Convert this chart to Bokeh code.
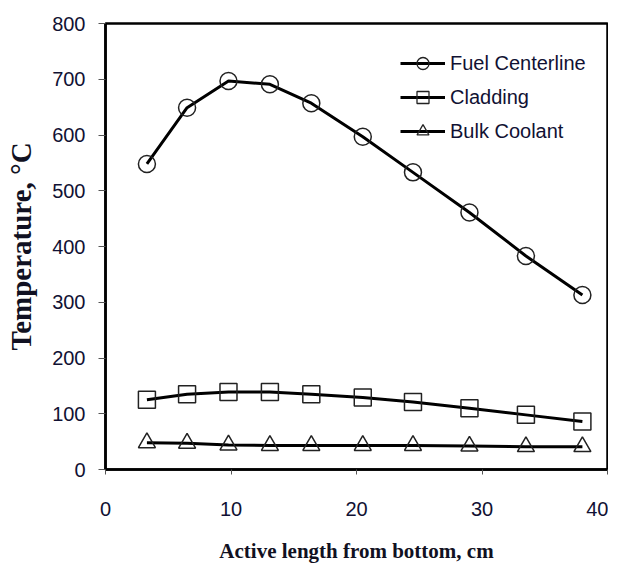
from bokeh.plotting import figure
from bokeh.models import ColumnDataSource, Legend, LegendItem, SingleIntervalTicker
from bokeh.embed import file_html
from bokeh.resources import INLINE

# Data
length_cm = [3.3, 6.5, 9.8, 13.1, 16.4, 20.5, 24.5, 29.0, 33.5, 38.0]
fuel_centerline = [548, 649, 697, 691, 657, 597, 533, 461, 383, 313]
cladding = [125, 135, 139, 139, 135, 129, 121, 110, 98, 86]
bulk_coolant = [48, 47, 44, 43, 43, 43, 43, 42, 41, 41]

series_names = ["Fuel Centerline", "Cladding", "Bulk Coolant"]
series_values = [fuel_centerline, cladding, bulk_coolant]
markers = ["circle", "square", "triangle"]

TICK_FONT = "Liberation Sans"
TITLE_FONT = "Liberation Serif"

p = figure(width=608, height=565, x_range=(0, 40), y_range=(0, 800),
           output_backend="svg", toolbar_location=None,
           min_border_left=105, min_border_right=1, min_border_top=23,
           min_border_bottom=96)
p.xgrid.visible = False
p.ygrid.visible = False
p.outline_line_color = "black"
p.outline_line_width = 2.5
p.background_fill_color = "white"
p.border_fill_color = "white"

p.xaxis.ticker = SingleIntervalTicker(interval=10, num_minor_ticks=0)
p.yaxis.ticker = SingleIntervalTicker(interval=100, num_minor_ticks=0)

for ax in (p.xaxis[0], p.yaxis[0]):
    ax.axis_line_color = "black"
    ax.axis_line_width = 2.5
    ax.major_tick_line_color = "#555555"
    ax.major_tick_line_width = 1
    ax.major_tick_in = 0
    ax.minor_tick_line_color = None
    ax.major_label_text_font = TICK_FONT
    ax.major_label_text_font_size = "20px"
    ax.major_label_text_color = "#111133"
    ax.axis_label_text_font = TITLE_FONT
    ax.axis_label_text_font_style = "bold"
    ax.axis_label_text_color = "#111122"

p.xaxis.major_tick_out = 5
p.xaxis.major_label_standoff = 27
p.xaxis.axis_label = "Active length from bottom, cm"
p.xaxis.axis_label_text_font_size = "21px"
p.xaxis.axis_label_standoff = 20

p.yaxis.major_tick_out = 7
p.yaxis.major_label_standoff = 13
p.yaxis.axis_label = "Temperature, °C"
p.yaxis.axis_label_text_font_size = "29px"
p.yaxis.axis_label_standoff = 12

nan = float("nan")
items = []
for name, vals, mk in zip(series_names, series_values, markers):
    src = ColumnDataSource(dict(x=length_cm, y=vals))
    p.line("x", "y", source=src, line_color="black", line_width=3)
    p.scatter("x", "y", source=src, marker=mk, size=17, line_color="#222222",
              line_width=1.5, fill_alpha=0)
    dummy = ColumnDataSource(dict(x=[nan], y=[nan]))
    lr = p.line("x", "y", source=dummy, line_color="black", line_width=3)
    mr = p.scatter("x", "y", source=dummy, marker=mk, size=11, line_color="#222222",
                   line_width=1.3, fill_alpha=0)
    items.append(LegendItem(label=name, renderers=[lr, mr]))

legend = Legend(items=items, location=(295, 323), orientation="vertical")
legend.border_line_color = None
legend.background_fill_alpha = 0
legend.padding = 0
legend.margin = 0
legend.spacing = 4
legend.glyph_width = 45
legend.glyph_height = 30
legend.label_height = 30
legend.label_standoff = 5
legend.label_text_font = TICK_FONT
legend.label_text_font_size = "20px"
legend.label_text_color = "#111133"
p.add_layout(legend, "center")

open("out.html", "w").write(file_html(p, INLINE))
